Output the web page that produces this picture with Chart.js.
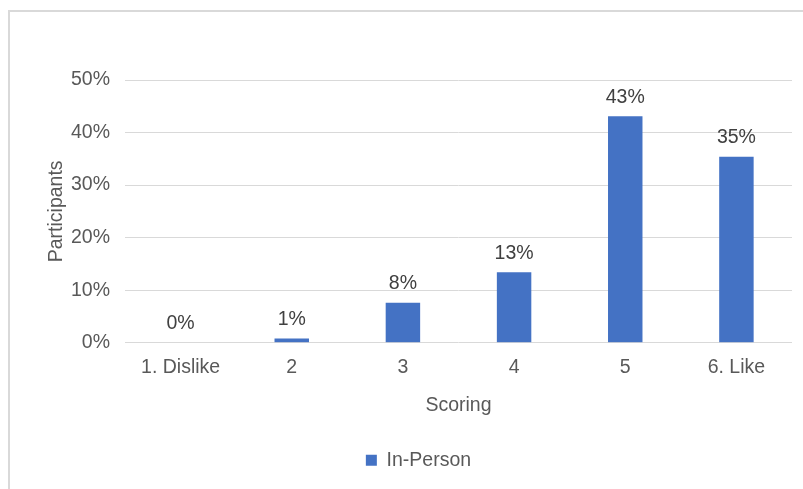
<!DOCTYPE html>
<html>
<head>
<meta charset="utf-8">
<script src="https://cdn.jsdelivr.net/npm/chart.js@4.4.1/dist/chart.umd.min.js"></script>
<style>
  html, body { margin: 0; padding: 0; background: #fff; overflow: hidden; }
  body { width: 803px; height: 489px; position: relative; }
  #frame { position: absolute; left: 8px; top: 10px; width: 1000px; height: 600px;
           border-left: 2px solid #d9d9d9; border-top: 2px solid #d9d9d9; box-sizing: border-box; }
  #wrap { position: absolute; left: 9px; top: 11px; }
</style>
</head>
<body>
<div id="frame"></div>
<div id="wrap"><canvas id="c" width="830" height="478"></canvas></div>
<script>
const categories = ["1. Dislike", "2", "3", "4", "5", "6. Like"];
const inPerson = [0, 0.8, 7.6, 13.4, 43.1, 35.4];
const valueLabels = ["0%", "1%", "8%", "13%", "43%", "35%"];
const yTicks = [0, 10, 20, 30, 40, 50];

const FONT = "'Liberation Sans', Arial, Helvetica, sans-serif";
const FS = 19.5;

const dataLabels = {
  id: 'dataLabels',
  afterDatasetsDraw(chart) {
    const ctx = chart.ctx;
    const meta = chart.getDatasetMeta(0);
    ctx.save();
    ctx.font = FS + "px " + FONT;
    ctx.fillStyle = "#404040";
    ctx.textAlign = "center";
    ctx.textBaseline = "middle";
    meta.data.forEach((bar, i) => {
      ctx.fillText(valueLabels[i], bar.x, bar.y - 19);
    });
    ctx.restore();
  }
};

new Chart(document.getElementById('c'), {
  type: 'bar',
  data: {
    labels: categories,
    datasets: [{
      label: 'In-Person',
      data: inPerson,
      backgroundColor: '#4472C4',
      borderWidth: 0,
      categoryPercentage: 1,
      barPercentage: 0.31
    }]
  },
  options: {
    responsive: false,
    animation: false,
    devicePixelRatio: 1,
    layout: { padding: { top: 69, left: 36, right: 47, bottom: 9 } },
    plugins: {
      legend: {
        position: 'bottom',
        labels: {
          boxWidth: 11, boxHeight: 11, padding: 10,
          color: '#595959',
          font: { family: FONT, size: FS }
        }
      },
      tooltip: { enabled: false },
      title: { display: false }
    },
    scales: {
      x: {
        grid: { display: false, drawTicks: false },
        border: { display: false },
        ticks: { color: '#595959', font: { family: FONT, size: FS }, padding: 13, maxRotation: 0 },
        title: { display: true, text: 'Scoring', color: '#595959',
                 font: { family: FONT, size: FS }, padding: { top: 2, bottom: 23 } }
      },
      y: {
        min: 0, max: 50,
        afterBuildTicks(axis) { axis.ticks = yTicks.map(v => ({ value: v })); },
        afterFit(axis) { axis.width = 80; },
        grid: { color: '#d9d9d9', lineWidth: 1, drawTicks: false },
        border: { display: false },
        ticks: { color: '#595959', font: { family: FONT, size: FS }, padding: 15,
                 callback: v => v + '%' },
        title: { display: true, text: 'Participants', color: '#595959',
                 font: { family: FONT, size: FS }, padding: { top: 0, bottom: 0 } }
      }
    }
  },
  plugins: [dataLabels]
});
</script>
</body>
</html>
